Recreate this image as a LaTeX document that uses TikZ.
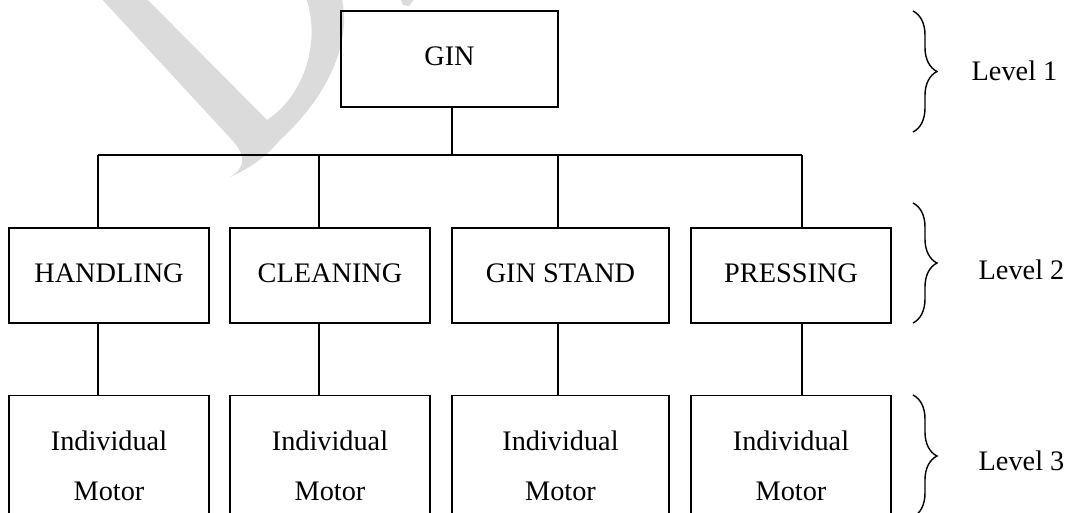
\documentclass[tikz,border=0pt]{standalone}
\usepackage{fontspec}
\setmainfont{Liberation Serif}
\usepackage{tikz}
\usetikzlibrary{decorations.pathreplacing}

\begin{document}
\begin{tikzpicture}[x=0.02cm,y=-0.02cm,line width=0.8pt,
    box/.style={draw,rectangle,minimum width=4cm,minimum height=1.9cm,inner sep=0pt,
      text depth=3pt,font=\fontsize{16.1}{28.4}\selectfont},
    wide/.style={box,minimum width=4.34cm},
    motor/.style={box,anchor=north,minimum height=2.9cm,align=center},
    lbrace/.style={decorate,decoration={brace,amplitude=0.48cm}},
    lvl/.style={anchor=west,inner sep=0pt,font=\fontsize{16.1}{18}\selectfont},
    wmark/.style={fill=black!14,draw=none}]
    \useasboundingbox (0,0) rectangle (1080,512);
    \clip (0,0) rectangle (1080,512);
    \fill[wmark] (98,-5) -- (232,140) .. controls (246,155) and (246,168) .. (230,177)
      .. controls (250,168) and (265,158) .. (280,140)
      .. controls (324,100) and (354,45) .. (341,-5) -- (305,-5)
      .. controls (322,40) and (305,95) .. (267,120) -- (143,-5) -- cycle;
    \fill[wmark] (400,-2) -- (415,-2) -- (409,6) -- (403,5) -- cycle;
    \node[wide,minimum height=1.92cm] (gin) at (449.5,59) {GIN};
    \node[box] (hand) at (109,275.5) {HANDLING};
    \node[box] (clean) at (330,275.5) {CLEANING};
    \node[wide] (stand) at (560.5,275.5) {GIN STAND};
    \node[box] (press) at (791,275.5) {PRESSING};
    \node[motor] (mot1) at (109,395) {Individual\\Motor};
    \node[motor] (mot2) at (330,395) {Individual\\Motor};
    \node[motor,minimum width=4.34cm] (mot3) at (560.5,395) {Individual\\Motor};
    \node[motor] (mot4) at (791,395) {Individual\\Motor};
    \coordinate (jg) at (452,155);
    \coordinate (j1) at (98,155);
    \coordinate (j2) at (319,155);
    \coordinate (j3) at (558,155);
    \coordinate (j4) at (802,155);
    \draw[-] (gin.south -| jg) to (jg);
    \draw[-] (j1) to (j4);
    \draw[-] (j1) to (j1 |- hand.north);
    \draw[-] (j2) to (j2 |- clean.north);
    \draw[-] (j3) to (j3 |- stand.north);
    \draw[-] (j4) to (j4 |- press.north);
    \draw[-] (j1 |- hand.south) to (j1 |- mot1.north);
    \draw[-] (j2 |- clean.south) to (j2 |- mot2.north);
    \draw[-] (j3 |- stand.south) to (j3 |- mot3.north);
    \draw[-] (j4 |- press.south) to (j4 |- mot4.north);
    \draw[lbrace] (913,11) -- (913,132);
    \draw[lbrace] (913,203) -- (913,323);
    \draw[lbrace] (913,395) -- (913,517);
    \node[lvl] (lev1) at (971,71) {Level 1};
    \node[lvl] (lev2) at (978,270) {Level 2};
    \node[lvl] (lev3) at (978,461) {Level 3};
\end{tikzpicture}
\end{document}
